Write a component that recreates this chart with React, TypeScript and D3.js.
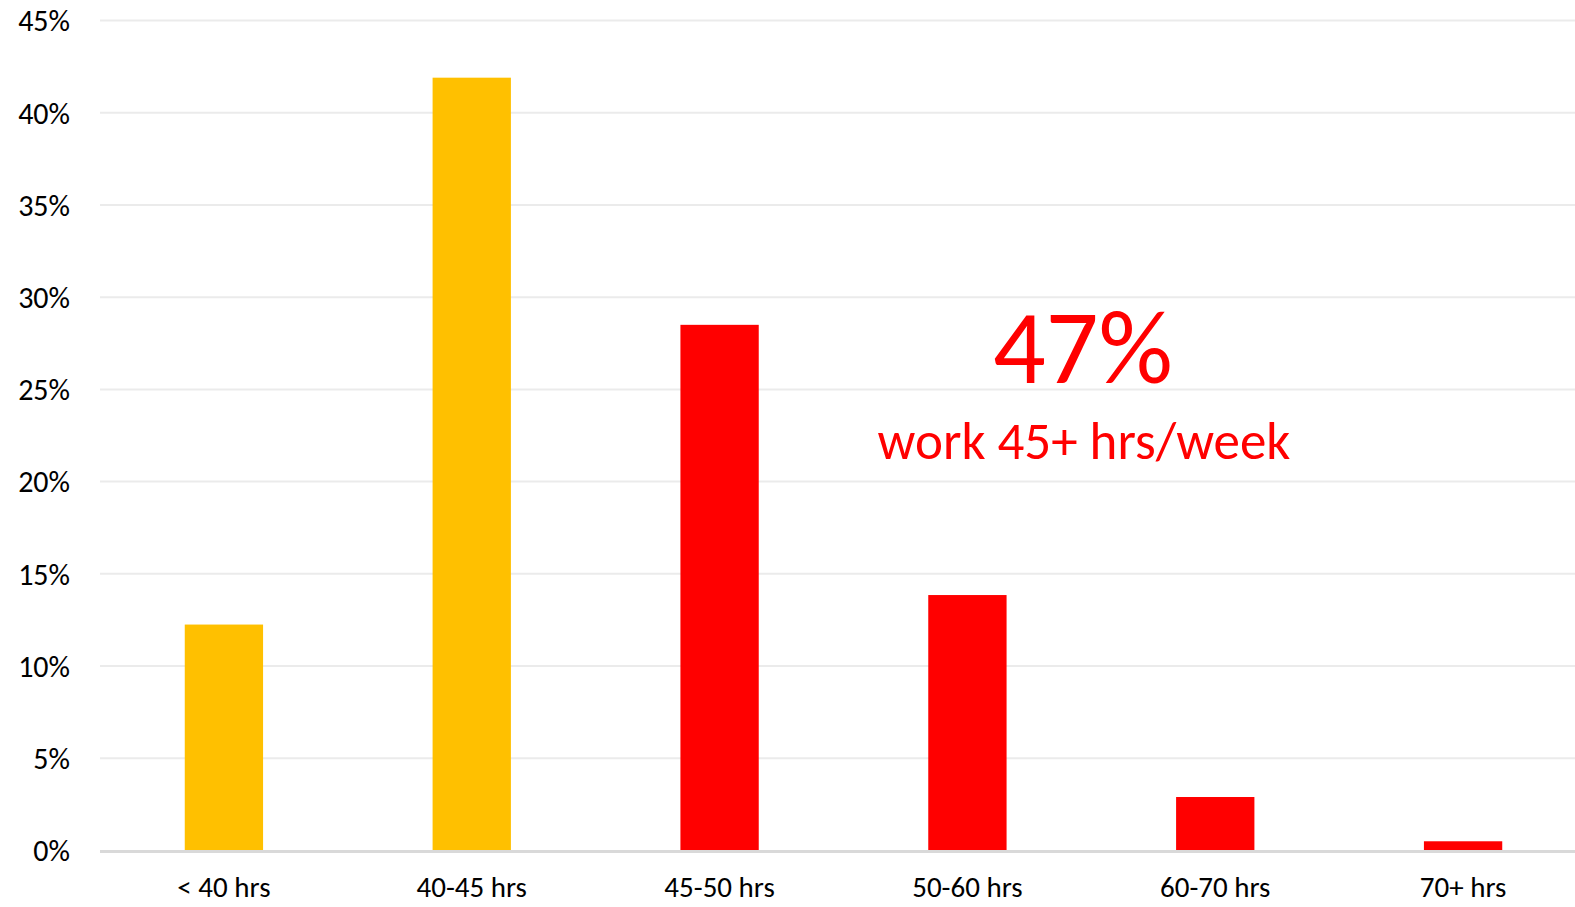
import React, { useEffect, useRef } from 'react';
import * as d3 from 'd3';

const categories = ['< 40 hrs', '40-45 hrs', '45-50 hrs', '50-60 hrs', '60-70 hrs', '70+ hrs'];
const shares = [12.25, 41.9, 28.5, 13.85, 2.9, 0.5];
const barColors = ['#FFC000', '#FFC000', '#FF0000', '#FF0000', '#FF0000', '#FF0000'];
const yTicks = [0, 5, 10, 15, 20, 25, 30, 35, 40, 45];
const bigNote = '47%';
const subNote = 'work 45+ hrs/week';

const FONT = 'Carlito, Calibri, Lato, sans-serif';

export default function App() {
  const ref = useRef<SVGSVGElement>(null);

  useEffect(() => {
    const width = 1575;
    const height = 907;
    const svg = d3.select(ref.current);
    svg.selectAll('*').remove();

    const x = d3
      .scaleBand()
      .domain(categories)
      .range([100, 1587])
      .paddingInner(0.684)
      .paddingOuter(0.342);

    const y = d3.scaleLinear().domain([0, 45]).range([850.5, 20.5]);

    // gridlines
    svg
      .append('g')
      .selectAll('line')
      .data(yTicks.filter(d => d > 0))
      .enter()
      .append('line')
      .attr('x1', 100)
      .attr('x2', width)
      .attr('y1', d => y(d))
      .attr('y2', d => y(d))
      .attr('stroke', '#ebebeb')
      .attr('stroke-width', 2);

    // y labels
    svg
      .append('g')
      .selectAll('text')
      .data(yTicks)
      .enter()
      .append('text')
      .attr('x', 70)
      .attr('y', d => y(d))
      .attr('dy', '0.36em')
      .attr('text-anchor', 'end')
      .attr('font-family', FONT)
      .attr('font-size', 30)
      .attr('fill', '#000')
      .text(d => `${d}%`);

    // bars
    svg
      .append('g')
      .selectAll('rect')
      .data(shares)
      .enter()
      .append('rect')
      .attr('x', (d, i) => x(categories[i]) as number)
      .attr('y', d => y(d))
      .attr('width', x.bandwidth())
      .attr('height', d => y(0) - y(d))
      .attr('fill', (d, i) => barColors[i]);

    // baseline
    svg
      .append('line')
      .attr('x1', 100)
      .attr('x2', width)
      .attr('y1', y(0) + 1)
      .attr('y2', y(0) + 1)
      .attr('stroke', '#d9d9d9')
      .attr('stroke-width', 3);

    // x labels
    svg
      .append('g')
      .selectAll('text')
      .data(categories)
      .enter()
      .append('text')
      .attr('x', d => (x(d) as number) + x.bandwidth() / 2)
      .attr('y', 897)
      .attr('text-anchor', 'middle')
      .attr('font-family', FONT)
      .attr('font-size', 29)
      .attr('fill', '#000')
      .text(d => d);

    // annotation
    svg
      .append('text')
      .attr('x', 1083)
      .attr('y', 383)
      .attr('text-anchor', 'middle')
      .attr('font-family', FONT)
      .attr('font-size', 104)
      .attr('fill', '#FF0000')
      .text(bigNote);

    svg
      .append('text')
      .attr('x', 1084)
      .attr('y', 459)
      .attr('text-anchor', 'middle')
      .attr('font-family', FONT)
      .attr('font-size', 53)
      .attr('fill', '#FF0000')
      .text(subNote);

    svg.attr('width', width).attr('height', height);
  }, []);

  return (
    <div style={{ position: 'absolute', left: 0, top: 0 }}>
      <svg ref={ref} width={1575} height={907} style={{ display: 'block', background: '#fff' }} />
    </div>
  );
}
